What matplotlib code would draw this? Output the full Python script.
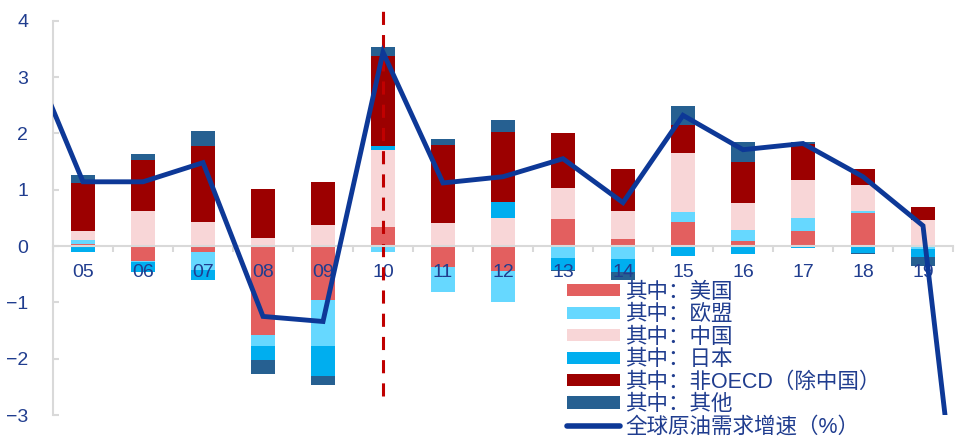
import numpy as np
import matplotlib
matplotlib.use("Agg")
import matplotlib.pyplot as plt
from matplotlib.patches import Patch
from matplotlib.lines import Line2D

# Contribution to global oil demand growth by region (percentage points)
years = ["05", "06", "07", "08", "09", "10", "11", "12", "13", "14", "15", "16", "17", "18", "19"]
us       = [0.03, -0.27, -0.11, -1.58, -0.96, 0.34, -0.38, -0.45, 0.48, 0.12, 0.43, 0.09, 0.265, 0.58, 0.01]
eu       = [0.07, -0.02, -0.31, -0.20, -0.81, -0.10, -0.43, -0.55, -0.22, -0.23, 0.17, 0.20, 0.235, 0.04, -0.06]
china    = [0.17, 0.62, 0.43, 0.14, 0.38, 1.37, 0.40, 0.49, 0.55, 0.50, 1.05, 0.47, 0.68, 0.46, 0.45]
japan    = [-0.10, -0.18, -0.18, -0.25, -0.53, 0.06, 0.00, 0.29, -0.20, -0.24, -0.18, -0.14, -0.03, -0.13, -0.13]
non_oecd = [0.84, 0.90, 1.35, 0.87, 0.75, 1.60, 1.40, 1.24, 0.97, 0.74, 0.50, 0.74, 0.625, 0.28, 0.225]
others   = [0.15, 0.11, 0.27, -0.24, -0.16, 0.16, 0.10, 0.21, -0.03, -0.13, 0.34, 0.34, 0.04, -0.02, -0.16]

# Global oil demand growth (%), 2004-2020
growth_years = ["04", "05", "06", "07", "08", "09", "10", "11", "12", "13", "14", "15", "16", "17", "18", "19", "20"]
growth = [3.7, 1.14, 1.14, 1.48, -1.25, -1.34, 3.44, 1.12, 1.23, 1.55, 0.77, 2.32, 1.71, 1.82, 1.23, 0.36, -8.8]

series_names = ["其中：美国", "其中：欧盟", "其中：中国", "其中：日本", "其中：非OECD（除中国）", "其中：其他"]
line_name = "全球原油需求增速（%）"
colors = ["#E35F5F", "#66D8FF", "#F8D6D7", "#00AEEF", "#9C0000", "#266091"]
line_color = "#0D3897"
text_color = "#203D8F"
grid_gray = "#D9D9D9"

fonts = ["Liberation Sans", "Noto Sans CJK SC", "DejaVu Sans"]
plt.rcParams["font.family"] = fonts

fig = plt.figure(figsize=(9.58, 4.36), dpi=100)
ax = fig.add_axes([53 / 958, 1 - 415 / 436, 900 / 958, (415 - 20.7) / 436])

x = np.arange(len(years))
pos_base = np.zeros(len(years))
neg_base = np.zeros(len(years))
for vals, col in zip([us, eu, china, japan, non_oecd, others], colors):
    v = np.asarray(vals, dtype=float)
    bottom = np.where(v >= 0, pos_base, neg_base)
    ax.bar(x, v, width=0.4, bottom=bottom, color=col, linewidth=0, zorder=1)
    pos_base += np.clip(v, 0, None)
    neg_base += np.clip(v, None, 0)

# Marker for 2010
ax.plot([5, 5], [-2.67, 4.18], color="#C00000", lw=2.2,
        linestyle=(0, (4.3, 3.3)), clip_on=False, zorder=2)

gx = np.arange(len(growth_years)) - 1
ax.plot(gx, growth, color=line_color, lw=3.5, solid_joinstyle="miter", zorder=3)

ax.set_xlim(-0.5, len(years) - 0.5)
ax.set_ylim(-3, 4)
ax.set_yticks(range(-3, 5))

for s in ["top", "right"]:
    ax.spines[s].set_visible(False)
ax.spines["left"].set_color(grid_gray)
ax.spines["left"].set_linewidth(1.5)
ax.spines["bottom"].set_position(("data", 0))
ax.spines["bottom"].set_color(grid_gray)
ax.spines["bottom"].set_linewidth(1.5)

ax.set_xticks(x)
ax.set_xticklabels(years)
ax.set_xticks(np.arange(-0.5, len(years), 1.0), minor=True)
ax.tick_params(axis="x", which="major", length=0, pad=13, labelsize=14, labelcolor=text_color)
ax.tick_params(axis="x", which="minor", length=4.5, width=1.5, color=grid_gray, direction="out")
ax.tick_params(axis="y", which="major", length=4.5, width=1.5, color=grid_gray, direction="in",
               pad=18, labelsize=14, labelcolor=text_color)
for lab in ax.get_xticklabels():
    lab.set_zorder(2.5)

handles = [Patch(facecolor=c, edgecolor="none") for c in colors]
handles.append(Line2D([0], [0], color=line_color, lw=4, solid_capstyle="round"))
leg = fig.legend(handles, series_names + [line_name], loc="upper left",
                 bbox_to_anchor=(567 / 958, 1 - 282 / 436), frameon=False,
                 fontsize=15.5, labelcolor=text_color, handlelength=2.45,
                 handleheight=0.5, handletextpad=0.25, labelspacing=0.067,
                 borderpad=0, borderaxespad=0)

fig.savefig("out.png", dpi=100)
